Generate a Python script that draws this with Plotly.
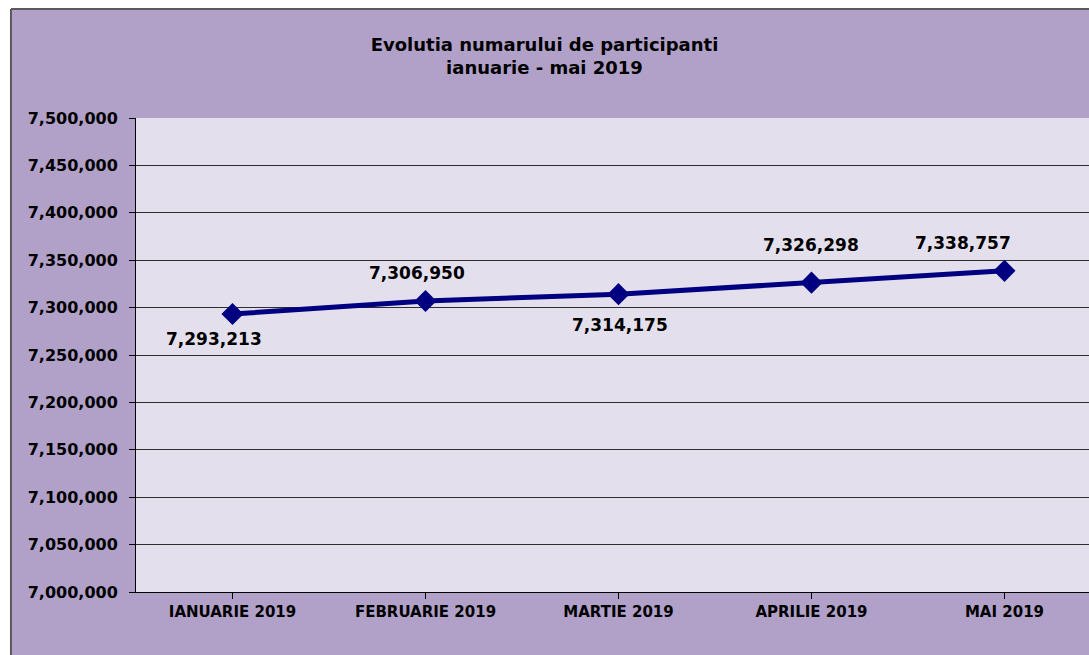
import plotly.graph_objects as go

# chart data
months = ["IANUARIE 2019", "FEBRUARIE 2019", "MARTIE 2019", "APRILIE 2019", "MAI 2019"]
participants = [7293213, 7306950, 7314175, 7326298, 7338757]
# label placement around each point (pixels)
label_dx = [-19, -8, 2, 0, -41]
label_dy = [-25, 28, -31, 38, 28]

FONT = "DejaVu Sans"
PURPLE = "#B1A1C8"
LAVENDER = "#E4DFEC"
NAVY = "#000080"

fig = go.Figure()

fig.add_trace(
    go.Scatter(
        x=list(range(len(months))),
        y=participants,
        mode="lines+markers",
        line=dict(color=NAVY, width=5),
        marker=dict(symbol="diamond", size=17, color=NAVY),
        hoverinfo="skip",
    )
)

# value labels
for i, v in enumerate(participants):
    fig.add_annotation(
        x=i, y=v, text=f"{v:,}", showarrow=False,
        xshift=label_dx[i], yshift=label_dy[i],
        font=dict(family=FONT, size=17, color="black", weight="bold"),
    )

# white margin strips and chart border (the chart is cropped at right/bottom)
fig.add_shape(type="rect", xref="paper", yref="paper", x0=-0.16, x1=-0.1312,
              y0=-0.2, y1=1.3, fillcolor="white", line_width=0)
fig.add_shape(type="rect", xref="paper", yref="paper", x0=-0.16, x1=1.1,
              y0=1.23, y1=1.3, fillcolor="white", line_width=0)
fig.add_shape(type="line", xref="paper", yref="paper", x0=-0.1312, x1=-0.1312,
              y0=-0.2, y1=1.23, line=dict(color="#5a5a5a", width=2))
fig.add_shape(type="line", xref="paper", yref="paper", x0=-0.1312, x1=1.1,
              y0=1.23, y1=1.23, line=dict(color="#5a5a5a", width=2))

fig.update_layout(
    width=1089,
    height=655,
    margin=dict(l=136, r=0, t=118, b=63),
    paper_bgcolor=PURPLE,
    plot_bgcolor=LAVENDER,
    showlegend=False,
    title=dict(
        text="<b>Evolutia numarului de participanti<br>ianuarie - mai 2019</b>",
        x=0.5, xanchor="center", y=0.922, yanchor="top",
        font=dict(family=FONT, size=18, color="black"),
    ),
    xaxis=dict(
        range=[-0.5, 4.438],
        tickmode="array",
        tickvals=list(range(len(months))),
        ticktext=months,
        tickson="boundaries",
        ticks="outside", ticklen=6, tickcolor="black",
        showline=True, linecolor="black", linewidth=1,
        showgrid=False, zeroline=False,
        tickfont=dict(family=FONT, size=15, color="black", weight="bold"),
    ),
    yaxis=dict(
        range=[7000000, 7500000],
        dtick=50000,
        tickformat=",",
        ticks="outside", ticklen=6, tickcolor="black",
        showline=True, linecolor="black", linewidth=1,
        showgrid=True, gridcolor="#2e2e2e", gridwidth=1,
        zeroline=False,
        ticklabelstandoff=8,
        tickfont=dict(family=FONT, size=16, color="black", weight="bold"),
    ),
)

# drop the default body margin so the figure fills the window
fig.write_html(
    "out.html",
    config={"displayModeBar": False},
    post_script="document.body.style.margin='0';document.body.style.overflow='hidden';",
)
